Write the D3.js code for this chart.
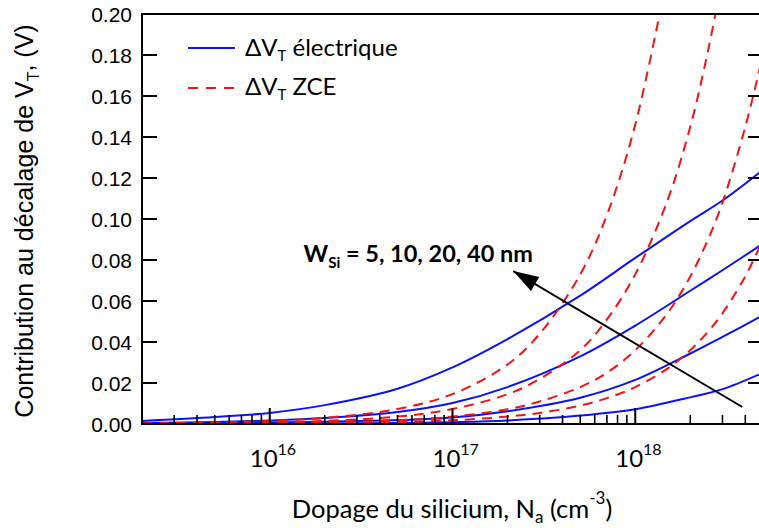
<!DOCTYPE html>
<html><head><meta charset="utf-8">
<script src="https://cdn.jsdelivr.net/npm/d3@7"></script>
<style>
html,body{margin:0;padding:0;background:#fff;}
svg{display:block;}
</style></head>
<body>
<div id="chart"></div>
<script>
// ---------- data ----------
const blueN = [2e15, 5e15, 1e16, 2e16, 5e16, 1e17, 2e17, 5e17, 1e18, 2e18, 3e18, 5e18];
const blueW40 = [0.0015, 0.0034, 0.0054, 0.0092, 0.0172, 0.0276, 0.0414, 0.0626, 0.081, 0.099, 0.109, 0.124];
const blueW20 = [0.0005, 0.0010, 0.0017, 0.0029, 0.0058, 0.0102, 0.018, 0.033, 0.048, 0.065, 0.075, 0.088];
const blueW10 = [0.0002, 0.0004, 0.0007, 0.0011, 0.0019, 0.0032, 0.0062, 0.0128, 0.0215, 0.0344, 0.0425, 0.053];
const blueW5  = [0.0001, 0.0001, 0.0002, 0.0003, 0.0005, 0.0009, 0.0017, 0.0041, 0.0072, 0.013, 0.017, 0.025];

const redN = [2e15, 5e15, 1e16, 2e16, 5e16, 1e17, 2e17, 3e17, 5e17, 7e17, 1e18, 1.5e18, 2e18, 2.5e18, 3e18, 4e18, 5e18];
const redW5  = [0.0003, 0.0007, 0.0015, 0.0030, 0.0073, 0.0146, 0.029, 0.044, 0.073, 0.102, 0.146, 0.219, null, null, null, null, null];
const redW10 = [0.00015, 0.0004, 0.0007, 0.0015, 0.0036, 0.0073, 0.0145, 0.022, 0.036, 0.051, 0.073, 0.109, 0.145, 0.182, 0.218, null, null];
const redW20 = [0.0001, 0.0002, 0.0004, 0.0007, 0.0018, 0.0036, 0.0072, 0.011, 0.018, 0.025, 0.036, 0.054, 0.072, 0.090, 0.108, 0.145, 0.180];
const redW40 = [0.00005, 0.0001, 0.0002, 0.0004, 0.0009, 0.0018, 0.0036, 0.0054, 0.009, 0.0126, 0.018, 0.027, 0.036, 0.045, 0.054, 0.072, 0.090];

const yTicks = [0.00, 0.02, 0.04, 0.06, 0.08, 0.10, 0.12, 0.14, 0.16, 0.18, 0.20];
const xMajor = [1e16, 1e17, 1e18];
const xMajorExp = ["16", "17", "18"];
const xDomain = [2e15, 5e18];
const yDomain = [0, 0.2];

const arrowFrom = [3.85e18, 0.0083];
const arrowTo = [2.15e17, 0.0746];
const annotPos = [1.53e16, 0.079];

// ---------- layout ----------
const W = 759, H = 528;
const pL = 142, pR = 763, pT = 14, pB = 424;

const svg = d3.select("#chart").append("svg").attr("width", W).attr("height", H);

const x = d3.scaleLog().domain(xDomain).range([pL, pR]);
const y = d3.scaleLinear().domain(yDomain).range([pB, pT]);

const defs = svg.append("defs");
defs.append("clipPath").attr("id", "clip")
  .append("rect").attr("x", pL).attr("y", pT).attr("width", pR - pL).attr("height", pB - pT);

defs.append("marker").attr("id", "arrow")
  .attr("markerUnits", "userSpaceOnUse").attr("markerWidth", 30).attr("markerHeight", 30)
  .attr("viewBox", "-24 -10 26 20").attr("refX", 0).attr("refY", 0).attr("orient", "auto")
  .append("path").attr("d", "M0,0 L-22,-7 L-22,7 Z").attr("fill", "#000");

const line = d3.line()
  .defined(d => d[1] != null)
  .x(d => x(d[0])).y(d => y(d[1]))
  .curve(d3.curveCatmullRom.alpha(0.5));

const plot = svg.append("g").attr("clip-path", "url(#clip)");

[blueW40, blueW20, blueW10, blueW5].forEach(s => {
  plot.append("path").datum(blueN.map((n, i) => [n, s[i]]))
    .attr("d", line).attr("fill", "none").attr("stroke", "#0a14f0").attr("stroke-width", 2);
});
[redW5, redW10, redW20, redW40].forEach(s => {
  plot.append("path").datum(redN.map((n, i) => [n, s[i]]))
    .attr("d", line).attr("fill", "none").attr("stroke", "#f01414").attr("stroke-width", 2)
    .attr("stroke-dasharray", "10,7");
});

// ---------- axes ----------
const ax = svg.append("g").attr("stroke", "#000");
ax.append("line").attr("x1", pL).attr("x2", pL).attr("y1", pT - 1).attr("y2", pB + 1).attr("stroke-width", 2);
ax.append("line").attr("x1", pL).attr("x2", pR).attr("y1", pB).attr("y2", pB).attr("stroke-width", 2);
ax.append("line").attr("x1", pL).attr("x2", pR).attr("y1", pT).attr("y2", pT).attr("stroke-width", 2);
ax.append("line").attr("x1", pR).attr("x2", pR).attr("y1", pT).attr("y2", pB).attr("stroke-width", 2);

yTicks.forEach(t => {
  ax.append("line").attr("x1", pL).attr("x2", pL + 15).attr("y1", y(t)).attr("y2", y(t)).attr("stroke-width", 2);
  ax.append("line").attr("x1", pR - 15).attr("x2", pR).attr("y1", y(t)).attr("y2", y(t)).attr("stroke-width", 2);
});
svg.append("g").selectAll("text").data(yTicks).join("text")
  .attr("x", 132).attr("y", d => y(d)).attr("dy", "0.36em")
  .attr("text-anchor", "end")
  .style("font-family", "'Liberation Sans', Arial, sans-serif").style("font-size", "21px")
  .text(d => d3.format(".2f")(d));

const xt = x.ticks().filter(t => t >= xDomain[0] && t <= xDomain[1]);
xt.forEach(t => {
  const isMajor = Math.abs(Math.log10(t) - Math.round(Math.log10(t))) < 1e-9;
  ax.append("line").attr("x1", x(t)).attr("x2", x(t)).attr("y1", pB).attr("y2", pB - (isMajor ? 16 : 9))
    .attr("stroke-width", isMajor ? 2 : 1.6);
});

const tickFont = "Lato, 'Open Sans', sans-serif";
xMajor.forEach((t, i) => {
  const tx = svg.append("text").attr("x", x(t) - 20).attr("y", 467)
    .style("font-family", tickFont).style("font-size", "24px").attr("fill", "#000");
  tx.append("tspan").text("10");
  tx.append("tspan").attr("dy", -12).style("font-size", "16px").text(xMajorExp[i]);
});

const yl = svg.append("text").attr("transform", "translate(33,221) rotate(-90)")
  .attr("text-anchor", "middle")
  .style("font-family", "'Liberation Sans', Arial, sans-serif").style("font-size", "25px");
yl.append("tspan").text("Contribution au décalage de V");
yl.append("tspan").attr("dy", 6).style("font-size", "16px").text("T");
yl.append("tspan").attr("dy", -6).text(", (V)");

const xl = svg.append("text").attr("x", 452).attr("y", 518).attr("text-anchor", "middle")
  .style("font-family", tickFont).style("font-size", "25.5px");
xl.append("tspan").text("Dopage du silicium, N");
xl.append("tspan").attr("dy", 5).style("font-size", "17px").text("a");
xl.append("tspan").attr("dy", -5).text(" (cm");
xl.append("tspan").attr("dy", -14).style("font-size", "17px").text("-3");
xl.append("tspan").attr("dy", 14).text(")");

const lg = svg.append("g");
lg.append("line").attr("x1", 188).attr("x2", 235).attr("y1", 48).attr("y2", 48).attr("stroke", "#0a14f0").attr("stroke-width", 2);
lg.append("line").attr("x1", 188).attr("x2", 235).attr("y1", 88).attr("y2", 88).attr("stroke", "#f01414").attr("stroke-width", 2).attr("stroke-dasharray", "10,8");
const l1 = lg.append("text").attr("x", 245).attr("y", 56).style("font-family", tickFont).style("font-size", "24px");
l1.append("tspan").text("ΔV");
l1.append("tspan").attr("dy", 5).style("font-size", "15px").text("T");
l1.append("tspan").attr("dy", -5).text(" électrique");
const l2 = lg.append("text").attr("x", 245).attr("y", 95).style("font-family", tickFont).style("font-size", "24px");
l2.append("tspan").text("ΔV");
l2.append("tspan").attr("dy", 5).style("font-size", "15px").text("T");
l2.append("tspan").attr("dy", -5).text(" ZCE");

svg.append("line")
  .attr("x1", x(arrowFrom[0])).attr("y1", y(arrowFrom[1]))
  .attr("x2", x(arrowTo[0])).attr("y2", y(arrowTo[1]))
  .attr("stroke", "#000").attr("stroke-width", 2).attr("marker-end", "url(#arrow)");
const an = svg.append("text").attr("x", x(annotPos[0])).attr("y", y(annotPos[1]))
  .style("font-family", tickFont).style("font-size", "23.5px").style("font-weight", "bold");
an.append("tspan").text("W");
an.append("tspan").attr("dy", 6).style("font-size", "15px").text("Si");
an.append("tspan").attr("dy", -6).text(" = 5, 10, 20, 40 nm");
</script>
</body></html>
